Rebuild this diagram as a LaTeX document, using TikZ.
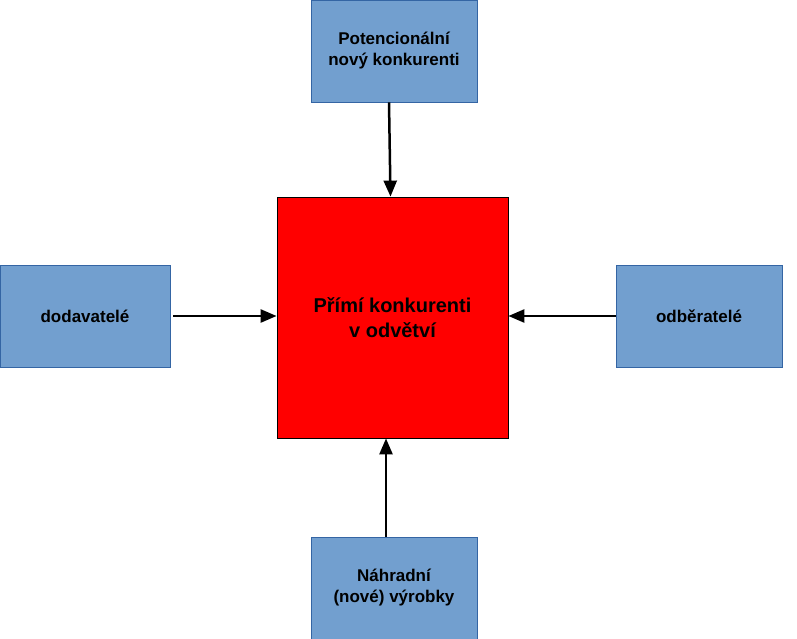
\documentclass[tikz,border=0pt]{standalone}
\usepackage{fontspec}
\setmainfont{Liberation Sans}
\usetikzlibrary{arrows.meta}
\definecolor{boxblue}{HTML}{729FCF}
\definecolor{boxedge}{HTML}{3465A4}
\begin{document}
\begin{tikzpicture}[x=1pt,y=-1pt,
  sbox/.style={draw=boxedge,fill=boxblue,line width=0.8pt,minimum width=166pt,minimum height=102pt,inner sep=0pt,align=center,font=\bfseries\fontsize{17}{21}\selectfont},
  cbox/.style={draw=black,fill=red,line width=0.8pt,minimum width=231pt,minimum height=241pt,align=center,font=\bfseries\fontsize{20}{25}\selectfont},
  arr/.style={line width=2.5pt,-{Triangle[length=16pt,width=13pt]}}]
\useasboundingbox (0,0) rectangle (797,639);
\node[sbox] (top) at (394,51) {Potencionální\\nový konkurenti};
\node[sbox] (bot) at (394,588) {Náhradní\\(nové) výrobky};
\node[sbox,minimum width=170pt] (left) at (85,316) {dodavatelé};
\node[sbox] (right) at (699,316) {odběratelé};
\node[cbox] (c) at (392.5,317.5) {Přímí konkurenti\\v odvětví};
\draw[arr] ([xshift=-5pt]top.south) -- ([xshift=-3.5pt]top.south |- c.north);
\draw[arr] ([xshift=-8pt]bot.north) -- ([xshift=-8pt]bot.north |- c.south);
\draw[arr] ([xshift=3pt]left.east) -- (left.east -| c.west);
\draw[arr] (right.west) -- (right.west -| c.east);
\end{tikzpicture}
\end{document}
